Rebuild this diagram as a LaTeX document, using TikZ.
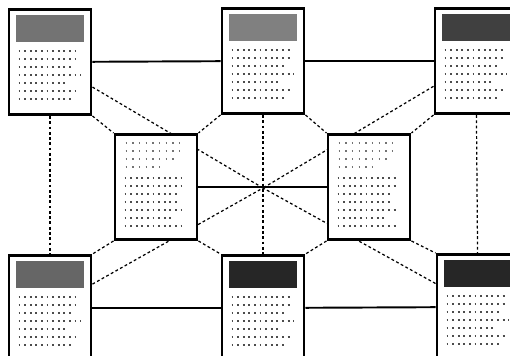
\documentclass[tikz,border=0pt]{standalone}
\usetikzlibrary{calc}
\pgfdeclarelayer{bg}
\pgfsetlayers{bg,main}

\begin{document}
\begin{tikzpicture}[
    card/.style={draw=black, line width=1.7pt, fill=white, minimum width=16.4mm, minimum height=21mm, inner sep=0pt},
    link/.style={line width=1.1pt},
    tie/.style={line width=0.7pt, dash pattern=on 1.6pt off 1.4pt},
    txtrow/.style={line width=1pt, black!70, dash pattern=on 1pt off 2.2pt},
    faintrow/.style={line width=0.9pt, black!55, dash pattern=on 0.8pt off 3pt},
    x=0.2mm, y=-0.2mm]

    \useasboundingbox (0,0) rectangle (510,356);
    \clip (0,0) rectangle (510,356);

    % ================= the eight cards =================
    \node[card] (tl) at (50,62)   {};
    \node[card] (tm) at (263,61)  {};
    \node[card] (tr) at (476,61)  {};
    \node[card] (cl) at (156,187) {};
    \node[card] (cr) at (369,187) {};
    \node[card] (bl) at (50,308)  {};
    \node[card] (bm) at (263,308) {};
    \node[card] (br) at (478,307) {};
    \coordinate (hub) at (263,188);

    % ================= connectors, kept behind the cards =================
    \begin{pgfonlayer}{bg}
        % solid rows
        \draw[link] (tl) -- (tm);
        \draw[link] (tm) -- (tr);
        \draw[link] (cl) -- (cr);
        \draw[link] (bl) -- (bm);
        \draw[link] (bm) -- (br);
        % dashed columns
        \draw[tie] (tl) -- (bl);
        \draw[tie] (tm) -- (bm);
        \draw[tie] (tr) -- (br);
        % outer cards to the hub
        \draw[tie] (tl) -- (hub);
        \draw[tie] (tr) -- (hub);
        \draw[tie] (bl) -- (hub);
        \draw[tie] (br) -- (hub);
        % corner ties
        \draw[tie] (tl.south east) -- (cl.north west);
        \draw[tie] (tm.south west) -- (cl.north east);
        \draw[tie] (tm.south east) -- (cr.north west);
        \draw[tie] (tr.south west) -- (cr.north east);
        \draw[tie] (cl.south west) -- (bl.north east);
        \draw[tie] (cl.south east) -- (bm.north west);
        \draw[tie] (cr.south west) -- (bm.north east);
        \draw[tie] (cr.south east) -- (br.north west);
    \end{pgfonlayer}

    % ================= header blocks of the outer cards =================
    \foreach \b/\s in {tl/55, tm/50, tr/75, bl/60, bm/85, br/85}
        \fill[black!\s] ($(\b.north west)+(8,7)$) rectangle ($(\b.north east)+(-8,34)$);

    % ================= text rows =================
    \foreach \b in {tl, tm, tr, bl, bm, br}
        \foreach \r/\w in {0/58, 1/60, 2/52, 3/62, 4/50, 5/60, 6/56}
            \draw[txtrow] ($(\b.north west)+(11,43+8*\r)$) -- ++(\w,0);

    \foreach \b in {cl, cr} {
        \foreach \r/\w in {0/56, 1/60, 2/50, 3/40}
            \draw[faintrow] ($(\b.north west)+(12,10+8*\r)$) -- ++(\w,0);
        \foreach \r/\w in {0/58, 1/60, 2/56, 3/52, 4/60, 5/48, 6/58}
            \draw[txtrow] ($(\b.north west)+(11,45+8*\r)$) -- ++(\w,0);
    }
\end{tikzpicture}
\end{document}
